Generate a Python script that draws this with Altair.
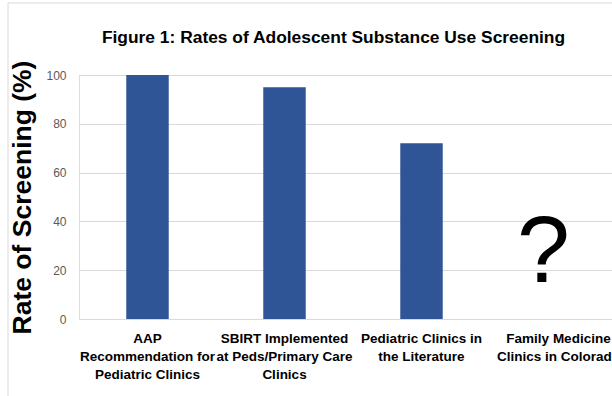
import altair as alt
import pandas as pd

categories = [
    "AAP|Recommendation for|Pediatric Clinics",
    "SBIRT Implemented|at Peds/Primary Care|Clinics",
    "Pediatric Clinics in|the Literature",
    "Family Medicine|Clinics in Colorado",
]
values = [100, 95, 72, None]
unknown_label = ["", "", "", "?"]
unknown_pos = [None, None, None, 15]

df = pd.DataFrame({"cat": categories, "val": values, "q": unknown_label, "qy": unknown_pos})

font = "Liberation Sans, Arial"

xscale = alt.Scale(paddingInner=0.69, paddingOuter=0.345, range=[0, 548])
xenc = alt.X(
    "cat:N", sort=categories, title=None, scale=xscale,
    axis=alt.Axis(
        labelAngle=0, labelExpr="split(datum.label, '|')", labelFont=font,
        labelFontWeight="bold", labelFontSize=13.5, labelColor="#000000",
        labelLineHeight=18, labelPadding=12, ticks=False, domain=True,
        domainColor="#d9d9d9", labelLimit=300, labelBaseline="top",
    ),
)
yscale = alt.Scale(domain=[0, 100])
yaxis = alt.Axis(
    values=[0, 20, 40, 60, 80, 100], title="Rate of Screening (%)",
    titleFont=font, titleFontSize=26.5, titleFontWeight="bold",
    titleColor="#000000", titlePadding=9, labelFont=font, labelFontSize=12,
    labelColor="#595959", labelPadding=13, ticks=False, domain=False,
    gridColor="#d9d9d9",
)

frame = alt.Chart(pd.DataFrame({"a": [0]})).mark_rect(
    fill="transparent", stroke="#d9d9d9", strokeWidth=1, clip=False
).encode(x=alt.value(-71), x2=alt.value(700), y=alt.value(-72), y2=alt.value(400))

bars = alt.Chart(df).mark_bar(color="#2F5597", clip=False).encode(
    x=xenc, y=alt.Y("val:Q", scale=yscale, axis=yaxis)
)
qmark = alt.Chart(df).mark_text(
    fontSize=95, font=font, color="#000000", baseline="alphabetic", clip=False, dx=-15
).encode(x=alt.X("cat:N", sort=categories, scale=xscale), y=alt.Y("qy:Q", scale=yscale), text="q:N")

chart = alt.layer(frame, bars, qmark).properties(
    width=533, height=244,
    title=alt.TitleParams(
        "Figure 1: Rates of Adolescent Substance Use Screening",
        font=font, fontSize=17.4, fontWeight="bold", color="#000000",
        anchor="middle", frame="group", dx=-12, offset=0, dy=58,
        baseline="alphabetic",
    ),
    autosize=alt.AutoSizeParams(type="none"),
    padding={"left": 79, "top": 75, "right": 0, "bottom": 77},
).configure_view(stroke=None).configure(background="white")

chart.save("out.html", embed_options={"renderer": "svg", "actions": False})
